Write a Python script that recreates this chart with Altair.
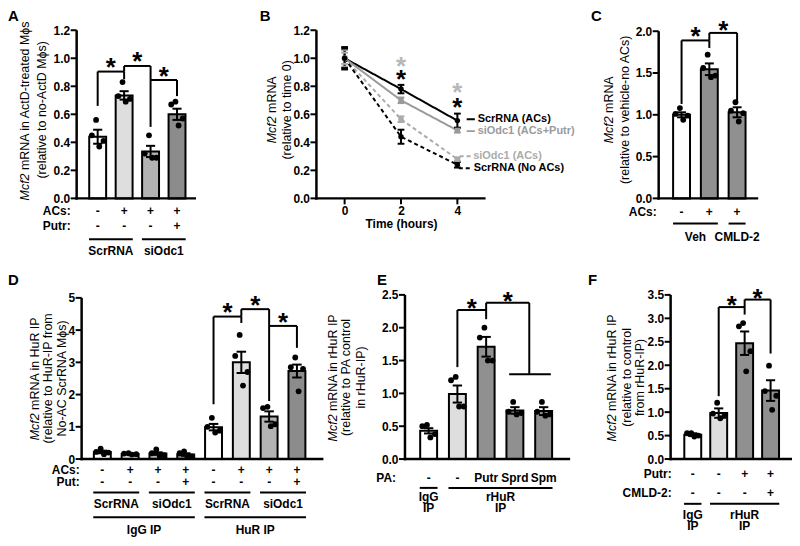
import altair as alt
import pandas as pd

FONT = "Liberation Sans"

# ---------------- Panel A ----------------
A_acs = ["-", "+", "+", "+"]
A_putr = ["-", "-", "-", "+"]
A_means = [0.44, 0.735, 0.335, 0.60]
A_sems = [0.05, 0.03, 0.04, 0.04]
A_dots = [[0.56, 0.45, 0.41, 0.37], [0.83, 0.73, 0.71, 0.69],
          [0.45, 0.32, 0.29, 0.29], [0.69, 0.67, 0.57, 0.52]]
A_groups = ["ScrRNA", "siOdc1"]
A_group_bars = [[1, 2], [3, 4]]
A_brackets = [[1, 2, 0.905, 0.66, 0.85], [2, 3, 0.945, 0.905, 0.51], [3, 4, 0.845, 0.845, 0.73]]
A_stars = [[1.5, 0.98], [2.5, 1.02], [3.5, 0.91]]
A_ticks = [0.0, 0.2, 0.4, 0.6, 0.8, 1.0, 1.2]
A_title = ["Mcf2 mRNA in ActD-treated Mϕs", "(relative to no-ActD Mϕs)"]

# ---------------- Panel B ----------------
B_times = [0, 2, 4]
B_names = ["ScrRNA (ACs)", "siOdc1 (ACs+Putr)", "siOdc1 (ACs)", "ScrRNA (No ACs)"]
B_means = [[1.0, 0.78, 0.555], [1.0, 0.70, 0.485], [1.0, 0.565, 0.28], [1.0, 0.44, 0.24]]
B_sems = [[0.08, 0.03, 0.05], [0.06, 0.02, 0.015], [0.04, 0.02, 0.012], [0.07, 0.05, 0.02]]
B_legend_y = [0.565, 0.48, 0.30, 0.215]
B_star_t = [2, 2, 4, 4]
B_star_y = [0.985, 0.89, 0.80, 0.69]
B_star_gray = [True, False, True, False]
B_ticks_x = [0, 2, 4]
B_ticks_y = [0.0, 0.2, 0.4, 0.6, 0.8, 1.0, 1.2]
B_title = ["Mcf2 mRNA", "(relative to time 0)"]

# ---------------- Panel C ----------------
C_acs = ["-", "+", "+"]
C_means = [1.0, 1.545, 1.03]
C_sems = [0.03, 0.07, 0.06]
C_dots = [[1.08, 1.01, 0.99, 0.94], [1.72, 1.56, 1.47, 1.45], [1.15, 1.05, 1.02, 0.92]]
C_groups = ["Veh", "CMLD-2"]
C_group_bars = [[1, 2], [3, 3]]
C_brackets = [[1, 2, 1.89, 1.13, 1.80], [2, 3, 1.98, 1.89, 1.14]]
C_stars = [[1.5, 2.01], [2.5, 2.08]]
C_ticks = [0.0, 0.5, 1.0, 1.5, 2.0]
C_title = ["Mcf2 mRNA", "(relative to vehicle-no ACs)"]

# ---------------- Panel D ----------------
D_acs = ["-", "+", "+", "+", "-", "+", "+", "+"]
D_put = ["-", "-", "-", "+", "-", "-", "-", "+"]
D_means = [0.22, 0.16, 0.17, 0.14, 0.99, 3.0, 1.32, 2.73]
D_sems = [0.04, 0.01, 0.04, 0.04, 0.10, 0.33, 0.16, 0.20]
D_dots = [[0.32, 0.22, 0.20, 0.15], [0.18, 0.17, 0.15, 0.14], [0.30, 0.18, 0.12, 0.10],
          [0.24, 0.18, 0.08, 0.06], [1.28, 1.0, 0.88, 0.82], [3.85, 3.2, 2.7, 2.28],
          [1.62, 1.58, 1.08, 1.02], [3.15, 2.85, 2.8, 2.1]]
D_groups1 = ["ScrRNA", "siOdc1", "ScrRNA", "siOdc1"]
D_group1_bars = [[1, 2], [3, 4], [5, 6], [7, 8]]
D_groups2 = ["IgG IP", "HuR IP"]
D_group2_bars = [[1, 4], [5, 8]]
D_brackets = [[5, 6, 4.42, 1.70, 4.22], [6, 7, 4.65, 4.42, 1.80], [7, 8, 4.13, 4.13, 3.45]]
D_stars = [[5.5, 4.73], [6.5, 4.96], [7.5, 4.44]]
D_ticks = [0, 1, 2, 3, 4, 5]
D_title = ["Mcf2 mRNA in HuR IP", "(relative to HuR-IP from", "No-AC ScrRNA Mϕs)"]

# ---------------- Panel E ----------------
E_pa = ["-", "-", "Putr", "Sprd", "Spm"]
E_means = [0.43, 0.99, 1.71, 0.74, 0.73]
E_sems = [0.04, 0.13, 0.15, 0.05, 0.06]
E_dots = [[0.52, 0.50, 0.38, 0.33], [1.25, 1.2, 0.8, 0.8], [2.0, 1.85, 1.5, 1.5],
          [0.87, 0.72, 0.70, 0.68], [0.87, 0.72, 0.68, 0.66]]
E_groups = ["IgG\nIP", "rHuR\nIP"]
E_group_bars = [[1, 1], [2, 5]]
E_brackets = [[2, 3, 2.27, 1.40, 2.13], [3, 4.5, 2.38, 2.27, 1.29]]
E_spans = [[3.8, 5.25, 1.29]]
E_stars = [[2.5, 2.38], [3.75, 2.5]]
E_ticks = [0.0, 0.5, 1.0, 1.5, 2.0, 2.5]
E_title = ["Mcf2 mRNA in rHuR IP", "(relative to PA control", "in rHuR-IP)"]

# ---------------- Panel F ----------------
F_putr = ["-", "-", "+", "+"]
F_cmld = ["-", "-", "-", "+"]
F_means = [0.52, 0.98, 2.47, 1.46]
F_sems = [0.03, 0.10, 0.25, 0.22]
F_dots = [[0.55, 0.55, 0.50, 0.48], [1.2, 0.97, 0.92, 0.87], [2.9, 2.83, 2.3, 1.87],
          [1.99, 1.45, 1.35, 1.05]]
F_groups = ["IgG\nIP", "rHuR\nIP"]
F_group_bars = [[1, 1], [2, 4]]
F_brackets = [[2, 3, 3.24, 1.34, 3.08], [3, 4, 3.40, 3.24, 2.25]]
F_stars = [[2.5, 3.41], [3.5, 3.55]]
F_ticks = [0.0, 0.5, 1.0, 1.5, 2.0, 2.5, 3.0, 3.5]
F_title = ["Mcf2 mRNA in rHuR IP", "(relative to control", "from rHuR-IP)"]

# ---------------- style ----------------
WHITE, LIGHT, MID, DARK = "#ffffff", "#dedede", "#b3b3b3", "#8c8c8c"
GRAYBAR = "#909090"
JIT = [-0.06, -0.22, 0.22, 0.06]
BAR_PX, HALF_BAR_PX, CAP_PX = 17, 9.5, 5
TICK_PX = 5
AXIS_W = 2.5
INSET = 4          # keeps the axis spines away from the view edge
STAR_SIZE = 26
TITLE_SIZE = 12.5
ONE = pd.DataFrame({"a": [0]})
AXSTYLE = dict(domain=False, ticks=False, labelFont=FONT, labelFontSize=12,
               labelFontWeight="bold", labelColor="black", grid=False)

CW = {' ': 0.278, '-': 0.333, '(': 0.333, ')': 0.333, '0': 0.556, '1': 0.556, '2': 0.556,
      'A': 0.667, 'C': 0.722, 'D': 0.722, 'H': 0.722, 'I': 0.278, 'M': 0.833, 'N': 0.722,
      'P': 0.667, 'R': 0.722, 'S': 0.667, 'a': 0.556, 'c': 0.5, 'd': 0.556, 'e': 0.556,
      'f': 0.278, 'h': 0.556, 'i': 0.222, 'l': 0.222, 'm': 0.833, 'n': 0.556, 'o': 0.556,
      'r': 0.333, 's': 0.5, 't': 0.278, 'u': 0.556, 'v': 0.5, 'ϕ': 0.62}


def tw(s, size):
    return sum(CW.get(c, 0.556) for c in s) * size


def const_text(txt, x, y, size, weight="normal", style="normal", angle=0, align="center",
               baseline="middle", color="black"):
    return alt.Chart(ONE).mark_text(
        text=txt, font=FONT, fontSize=size, fontWeight=weight, fontStyle=style, angle=angle,
        align=align, baseline=baseline, color=color
    ).encode(x=alt.value(x), y=alt.value(y))


def axis_lines(xpx, x2px, ytop, ybot):
    """Black axis spines (left and bottom) of a panel, as two thin filled rectangles."""
    h = AXIS_W / 2
    left = alt.Chart(ONE).mark_rect(color="#000000", opacity=1).encode(
        x=alt.value(xpx - h), x2=alt.value(xpx + h), y=alt.value(ytop), y2=alt.value(ybot + h))
    bottom = alt.Chart(ONE).mark_rect(color="#000000", opacity=1).encode(
        x=alt.value(xpx - h), x2=alt.value(x2px), y=alt.value(ybot - h), y2=alt.value(ybot + h))
    return [left, bottom]


def title_layers(lines, xs_px, cy):
    out = []
    for line, xp in zip(lines, xs_px):
        if line.startswith("Mcf2"):
            total = tw(line, TITLE_SIZE)
            start = cy + total / 2
            out.append(const_text("Mcf2", xp, start, TITLE_SIZE, style="italic", angle=270, align="left"))
            out.append(const_text(line[5:], xp, start - tw("Mcf2 ", TITLE_SIZE), TITLE_SIZE,
                                  angle=270, align="left"))
        else:
            out.append(const_text(line, xp, cy, TITLE_SIZE, angle=270, align="center"))
    return out


def bar_panel(p):
    xrng = [p["xrng"][0] + INSET, p["xrng"][1] + INSET]
    xs = alt.Scale(domain=p["xdom"], range=xrng, nice=False, zero=False)
    ys = alt.Scale(domain=p["ydom"], range=p["yrng"], nice=False, zero=False)
    xax = alt.Axis(labels=False, title=None, **AXSTYLE)
    yax = alt.Axis(values=p["ticks"], format=p["fmt"], title=None,
                   offset=p.get("yoff", 0) - INSET, labelPadding=TICK_PX + 2, **AXSTYLE)
    ppu = (p["xrng"][1] - p["xrng"][0]) / (p["xdom"][1] - p["xdom"][0])
    half, cap = HALF_BAR_PX / ppu, CAP_PX / ppu
    ax_x = xrng[0]

    def X(f):
        return alt.X(f, type="quantitative", scale=xs, axis=xax, title=None)

    def Y(f):
        return alt.Y(f, type="quantitative", scale=ys, axis=yax, title=None)

    n = len(p["means"])
    idx = list(range(1, n + 1))
    bdf = pd.DataFrame({"i": idx, "m": p["means"], "s": p["sems"], "fill": p["fills"]})
    bdf["lo"] = bdf.m - bdf.s
    bdf["hi"] = bdf.m + bdf.s
    layers = []
    layers.append(alt.Chart(bdf).mark_bar(size=BAR_PX, stroke="black", strokeWidth=2).encode(
        x=X("i"), y=Y("m"), fill=alt.Fill("fill:N", scale=None)))
    tdf = pd.DataFrame({"v": p["ticks"]})
    layers.append(alt.Chart(tdf).mark_rule(color="black", strokeWidth=2).encode(
        x=alt.value(ax_x - TICK_PX - 1), x2=alt.value(ax_x), y=Y("v")))
    layers.append(alt.Chart(bdf).mark_rule(color="black", strokeWidth=2).encode(
        x=X("i"), y=Y("lo"), y2="hi:Q"))
    caps = []
    for i, lo, hi in zip(idx, bdf.lo, bdf.hi):
        caps.append({"x": i - cap, "x2": i + cap, "y": lo})
        caps.append({"x": i - cap, "x2": i + cap, "y": hi})
    layers.append(alt.Chart(pd.DataFrame(caps)).mark_rule(color="black", strokeWidth=2).encode(
        x=X("x"), x2="x2:Q", y=Y("y")))
    dots = []
    for i, vals in zip(idx, p["dots"]):
        for k, v in enumerate(vals):
            dots.append({"x": i + JIT[k % 4], "y": v})
    layers.append(alt.Chart(pd.DataFrame(dots)).mark_circle(size=34, color="black", opacity=1).encode(
        x=X("x"), y=Y("y")))
    segs = []
    for xl, xr, top, lb, rb in p["brackets"]:
        if lb < top:
            segs.append({"x": xl, "x2": xl, "y": lb, "y2": top})
        segs.append({"x": xl, "x2": xr, "y": top, "y2": top})
        if rb < top:
            segs.append({"x": xr, "x2": xr, "y": top, "y2": rb})
    for x0, x1, yv in p.get("spans", []):
        segs.append({"x": x0, "x2": x1, "y": yv, "y2": yv})
    layers.append(alt.Chart(pd.DataFrame(segs)).mark_rule(color="black", strokeWidth=2).encode(
        x=X("x"), x2="x2:Q", y=Y("y"), y2="y2:Q"))
    sdf = pd.DataFrame(p["stars"], columns=["x", "y"])
    layers.append(alt.Chart(sdf).mark_text(
        text="*", font=FONT, fontSize=STAR_SIZE, fontWeight="bold", baseline="alphabetic",
        dy=0.565 * STAR_SIZE, color="black").encode(x=X("x"), y=Y("y")))
    # treatment rows
    for header, labels, ypx in p["rows"]:
        rdf = pd.DataFrame({"i": idx, "lab": labels})
        layers.append(alt.Chart(rdf).mark_text(
            font=FONT, fontSize=12, fontWeight="bold", baseline="middle", color="black").encode(
            x=X("i"), y=alt.value(ypx), text="lab:N"))
        layers.append(const_text(header, p["header_x"] + INSET, ypx, 12, weight="bold", align="right"))
    # grouping lines / labels
    for labels, spans, line_y, label_ys in p["levels"]:
        ldf = pd.DataFrame({"x": [s[0] - half for s in spans], "x2": [s[1] + half for s in spans]})
        layers.append(alt.Chart(ldf).mark_rule(color="black", strokeWidth=2).encode(
            x=X("x"), x2="x2:Q", y=alt.value(line_y)))
        for j, ly in enumerate(label_ys):
            gdf = pd.DataFrame({"x": [(s[0] + s[1]) / 2 for s in spans],
                                "lab": [lab.split("\n")[j] for lab in labels]})
            layers.append(alt.Chart(gdf).mark_text(
                font=FONT, fontSize=12, fontWeight="bold", baseline="middle", color="black").encode(
                x=X("x"), y=alt.value(ly), text="lab:N"))
    layers += title_layers(p["title"], [v + INSET for v in p["title_x"]], p["title_cy"])
    layers.append(const_text(p["letter"], p["letter_xy"][0] + INSET, p["letter_xy"][1], 15,
                             weight="bold", align="left", baseline="top"))
    layers += axis_lines(ax_x, xrng[1], p["yrng"][1], p["yrng"][0])
    return alt.layer(*layers).properties(width=p["w"], height=p["h"] + INSET)


def line_panel():
    xrng, yrng = [INSET, 170 + INSET], [169, 0]
    xs = alt.Scale(domain=[-1, 5], range=xrng, nice=False, zero=False)
    ys = alt.Scale(domain=[0, 1.2], range=yrng, nice=False, zero=False)
    xax = alt.Axis(values=B_ticks_x, format="d", title="Time (hours)", titleFont=FONT,
                   titleFontSize=12, titleFontWeight="bold", titleColor="black",
                   titlePadding=2, labelPadding=TICK_PX + 2, offset=-INSET, **AXSTYLE)
    yax = alt.Axis(values=B_ticks_y, format=".1f", title=None, labelPadding=TICK_PX + 2,
                   offset=-INSET, **AXSTYLE)
    colors = ["#000000", "#9a9a9a", "#ababab", "#000000"]
    dashes = ["solid", "solid", "dashed", "dashed"]
    shapes = ["circle", "square", "circle", "circle"]
    dash_scale = alt.Scale(domain=["solid", "dashed"], range=[[1, 0], [4, 3]])

    def X(f):
        return alt.X(f, type="quantitative", scale=xs, axis=xax, title="Time (hours)")

    def Y(f):
        return alt.Y(f, type="quantitative", scale=ys, axis=yax, title=None)

    rows = []
    for k, name in enumerate(B_names):
        for t, m, s in zip(B_times, B_means[k], B_sems[k]):
            rows.append({"series": name, "order": k, "t": t, "m": m, "lo": m - s, "hi": m + s,
                         "cl": t - 0.12, "cr": t + 0.12, "color": colors[k], "dash": dashes[k],
                         "shape": shapes[k]})
    df = pd.DataFrame(rows)
    layers = []
    layers.append(alt.Chart(df).mark_line(strokeWidth=2).encode(
        x=X("t"), y=Y("m"),
        detail="series:N",
        color=alt.Color("color:N", scale=None),
        strokeDash=alt.StrokeDash("dash:N", scale=dash_scale, legend=None),
        order=alt.Order("t:Q")))
    layers.append(alt.Chart(pd.DataFrame({"v": B_ticks_y})).mark_rule(color="black", strokeWidth=2).encode(
        x=alt.value(xrng[0] - TICK_PX - 1), x2=alt.value(xrng[0]), y=Y("v")))
    layers.append(alt.Chart(pd.DataFrame({"t": B_ticks_x})).mark_rule(color="black", strokeWidth=2).encode(
        x=X("t"), y=alt.value(yrng[0]), y2=alt.value(yrng[0] + TICK_PX + 1)))
    layers.append(alt.Chart(df).mark_rule(strokeWidth=2).encode(
        x=X("t"), y=Y("lo"), y2="hi:Q", color=alt.Color("color:N", scale=None)))
    layers.append(alt.Chart(df).mark_rule(strokeWidth=2).encode(
        x=X("cl"), x2="cr:Q", y=Y("hi"), color=alt.Color("color:N", scale=None)))
    layers.append(alt.Chart(df).mark_rule(strokeWidth=2).encode(
        x=X("cl"), x2="cr:Q", y=Y("lo"), color=alt.Color("color:N", scale=None)))
    layers.append(alt.Chart(df).mark_point(filled=True, size=30, opacity=1).encode(
        x=X("t"), y=Y("m"), color=alt.Color("color:N", scale=None),
        shape=alt.Shape("shape:N", scale=None)))
    sdf = pd.DataFrame({"t": B_star_t, "y": B_star_y,
                        "color": ["#b8b8b8" if g else "#000000" for g in B_star_gray]})
    layers.append(alt.Chart(sdf).mark_text(
        text="*", font=FONT, fontSize=STAR_SIZE, fontWeight="bold", baseline="alphabetic",
        dy=0.565 * STAR_SIZE).encode(x=X("t"), y=Y("y"), color=alt.Color("color:N", scale=None)))
    # legend at line ends
    lx0 = [4.33, 4.33, 4.08, 4.05]
    lx1 = [4.62, 4.62, 4.48, 4.48]
    tx = [4.72, 4.72, 4.56, 4.58]
    ldf = pd.DataFrame({"x": lx0, "x2": lx1, "tx": tx, "y": B_legend_y, "name": B_names,
                        "color": colors, "dash": dashes})
    layers.append(alt.Chart(ldf).mark_rule(strokeWidth=2).encode(
        x=X("x"), x2="x2:Q", y=Y("y"), color=alt.Color("color:N", scale=None),
        strokeDash=alt.StrokeDash("dash:N", scale=dash_scale, legend=None)))
    layers.append(alt.Chart(ldf).mark_text(
        font=FONT, fontSize=11, fontWeight="bold", align="left", baseline="middle").encode(
        x=X("tx"), y=Y("y"), text="name:N", color=alt.Color("color:N", scale=None)))
    layers += title_layers(B_title, [-45 + INSET, -30 + INSET], 80)
    layers.append(const_text("B", -57 + INSET, -21, 15, weight="bold", align="left", baseline="top"))
    layers += axis_lines(xrng[0], xrng[1], yrng[1], yrng[0])
    return alt.layer(*layers).properties(width=344, height=169 + INSET)


panel_A = bar_panel(dict(
    means=A_means, sems=A_sems, dots=A_dots, fills=[WHITE, LIGHT, MID, DARK],
    xdom=[0.393, 4.531], xrng=[0, 120], ydom=[0, 1.2], yrng=[169, 0], ticks=A_ticks, fmt=".1f",
    brackets=A_brackets, stars=A_stars,
    rows=[("ACs:", A_acs, 181.7), ("Putr:", A_putr, 197)], header_x=-6,
    levels=[(A_groups, A_group_bars, 210, [221.7])],
    title=A_title, title_x=[-52, -35], title_cy=80, letter="A", letter_xy=(-69, -21),
    w=241, h=169))

panel_B = line_panel()

panel_C = bar_panel(dict(
    means=C_means, sems=C_sems, dots=C_dots, fills=[WHITE, GRAYBAR, GRAYBAR],
    xdom=[0.355, 3.58], xrng=[0, 100], ydom=[0, 2.0], yrng=[169, 1], ticks=C_ticks, fmt=".1f",
    brackets=C_brackets, stars=C_stars,
    rows=[("ACs:", C_acs, 182.7)], header_x=-2,
    levels=[(C_groups, C_group_bars, 194.3, [208.3])],
    title=C_title, title_x=[-50, -34], title_cy=80, letter="C", letter_xy=(-68, -21),
    w=100, h=169))

panel_D = bar_panel(dict(
    means=D_means, sems=D_sems, dots=D_dots, fills=[WHITE, LIGHT, MID, DARK] * 2,
    xdom=[0.434, 8.773], xrng=[5, 248], ydom=[0, 5], yrng=[166, 4], ticks=D_ticks, fmt="d",
    yoff=-5, brackets=D_brackets, stars=D_stars,
    rows=[("ACs:", D_acs, 177), ("Put:", D_put, 189.5)], header_x=3,
    levels=[(D_groups1, D_group1_bars, 199.5, [211.5]), (D_groups2, D_group2_bars, 224.5, [237.7])],
    title=D_title, title_x=[-42, -29, -15], title_cy=85, letter="D", letter_xy=(-69, -21),
    w=330, h=166))

panel_E = bar_panel(dict(
    means=E_means, sems=E_sems, dots=E_dots, fills=[WHITE, LIGHT, GRAYBAR, GRAYBAR, GRAYBAR],
    xdom=[0.35, 5.748], xrng=[0, 166], ydom=[0, 2.5], yrng=[166, 1], ticks=E_ticks, fmt=".1f",
    brackets=E_brackets, spans=E_spans, stars=E_stars,
    rows=[("PA:", E_pa, 185)], header_x=-9,
    levels=[(E_groups, E_group_bars, 195, [204.5, 215.5])],
    title=E_title, title_x=[-72, -59, -44], title_cy=84, letter="E", letter_xy=(-28, -21),
    w=267, h=166))

panel_F = bar_panel(dict(
    means=F_means, sems=F_sems, dots=F_dots, fills=[WHITE, LIGHT, GRAYBAR, GRAYBAR],
    xdom=[0.338, 4.634], xrng=[0, 122], ydom=[0, 3.5], yrng=[166, 1], ticks=F_ticks, fmt=".1f",
    brackets=F_brackets, stars=F_stars,
    rows=[("Putr:", F_putr, 181), ("CMLD-2:", F_cmld, 200)], header_x=1,
    levels=[(F_groups, F_group_bars, 211, [222.5, 233.5])],
    title=F_title, title_x=[-59, -44, -31], title_cy=84, letter="F", letter_xy=(-83, -21),
    w=122, h=166))

row1 = alt.hconcat(panel_A, panel_B, panel_C, spacing=0, bounds="flush")
row2 = alt.hconcat(panel_D, panel_E, panel_F, spacing=0, bounds="flush")

chart = alt.vconcat(row1, row2, spacing=16).properties(padding=0).configure_view(
    stroke=None
).configure_axis(**AXSTYLE)

chart.save("out.html", embed_options={"renderer": "svg", "actions": False})
